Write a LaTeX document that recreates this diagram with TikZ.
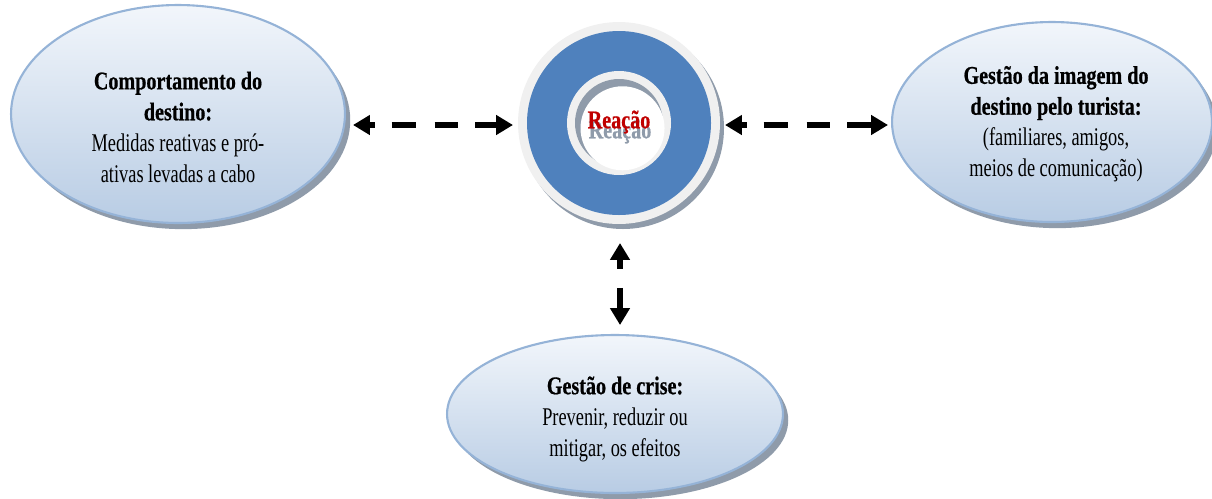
\documentclass[tikz,border=0pt]{standalone}
\usepackage{fontspec}
\setmainfont{Liberation Serif}[FakeStretch=0.72, BoldFeatures={FakeStretch=0.79, FakeBold=0.6}]
\usetikzlibrary{shapes.geometric,arrows.meta,shadows}
\definecolor{edgeblue}{HTML}{95B3D7}
\definecolor{topfill}{HTML}{F2F6FB}
\definecolor{botfill}{HTML}{B8CCE4}
\definecolor{shadowgray}{HTML}{8F9BAA}
\definecolor{ringblue}{HTML}{4F81BD}
\definecolor{ringlight}{HTML}{F0F0F0}
\definecolor{reacred}{HTML}{C00000}
\tikzset{
  bubble/.style={ellipse, draw=edgeblue, line width=1.2pt, top color=topfill, bottom color=botfill,
    drop shadow={shadow xshift=3pt, shadow yshift=-3.5pt, fill=shadowgray, opacity=1}},
  txt/.style={align=center, font=\fontsize{14.5}{17.6}\selectfont, text=black},
  conn/.style={line width=3.4pt,
    dash pattern=on 3.4pt off 9.64pt on 13.6pt off 10.77pt on 13.6pt off 9.64pt on 12.47pt off 10pt,
    {Triangle[length=9.6pt,width=10.8pt]}-{Triangle[length=9.6pt,width=10.8pt]}},
}
\begin{document}
\begin{tikzpicture}[x=0.02cm,y=-0.02cm]
\useasboundingbox (0,0) rectangle (1212,498);
% ellipses
\node[bubble, minimum width=6.68cm, minimum height=4.36cm] (L) at (178,114) {};
\node[bubble, minimum width=6.4cm, minimum height=4.0cm] (R) at (1052,122) {};
\node[bubble, minimum width=6.72cm, minimum height=3.16cm] (B) at (615,414) {};
% ring
\fill[shadowgray] (623,128) circle (101);
\node[circle, fill=ringlight, minimum size=4.04cm, inner sep=0pt] (ring) at (619,123) {};
\fill[ringblue] (ring.center) circle (92);
\fill[ringlight] (ring.center) circle (52);
\fill[shadowgray] (ring.center) circle (44);
\fill[white] ([xshift=2pt,yshift=-3pt]ring.center) circle (42);
\node[txt, font=\fontsize{14.5}{17.6}\selectfont\bfseries, text=shadowgray] at (620,132) {Reação};
\node[txt, font=\fontsize{14.5}{17.6}\selectfont\bfseries, text=reacred] (rt) at (619,122) {Reação};
% texts
\node[txt] (Lt) at (178,127) {\textbf{Comportamento do}\\\textbf{destino:}\\Medidas reativas e pró-\\ativas levadas a cabo};
\node[txt] (Rt) at (1056,124) {\textbf{Gestão da imagem do}\\\textbf{destino pelo turista:}\\(familiares, amigos,\\meios de comunicação)};
\node[txt] (Bt) at (615,419) {\textbf{Gestão de crise:}\\Prevenir, reduzir ou\\mitigar, os efeitos};
% connectors
\coordinate (l1) at (353,125); \coordinate (l2) at (513,125);
\coordinate (r1) at (725,125); \coordinate (r2) at (888,125);
\coordinate (v1) at (620,243); \coordinate (v2) at (620,325);
\draw[conn] (l1) -- (l2);
\draw[conn, dash pattern=on 3.4pt off 9.64pt on 13.6pt off 10.77pt on 13.6pt off 9.64pt on 14pt off 10pt] (r1) -- (r2);
\draw[conn, dash pattern=on 5.7pt off 10.8pt on 14pt off 10pt] (v1) -- (v2);
\end{tikzpicture}
\end{document}
